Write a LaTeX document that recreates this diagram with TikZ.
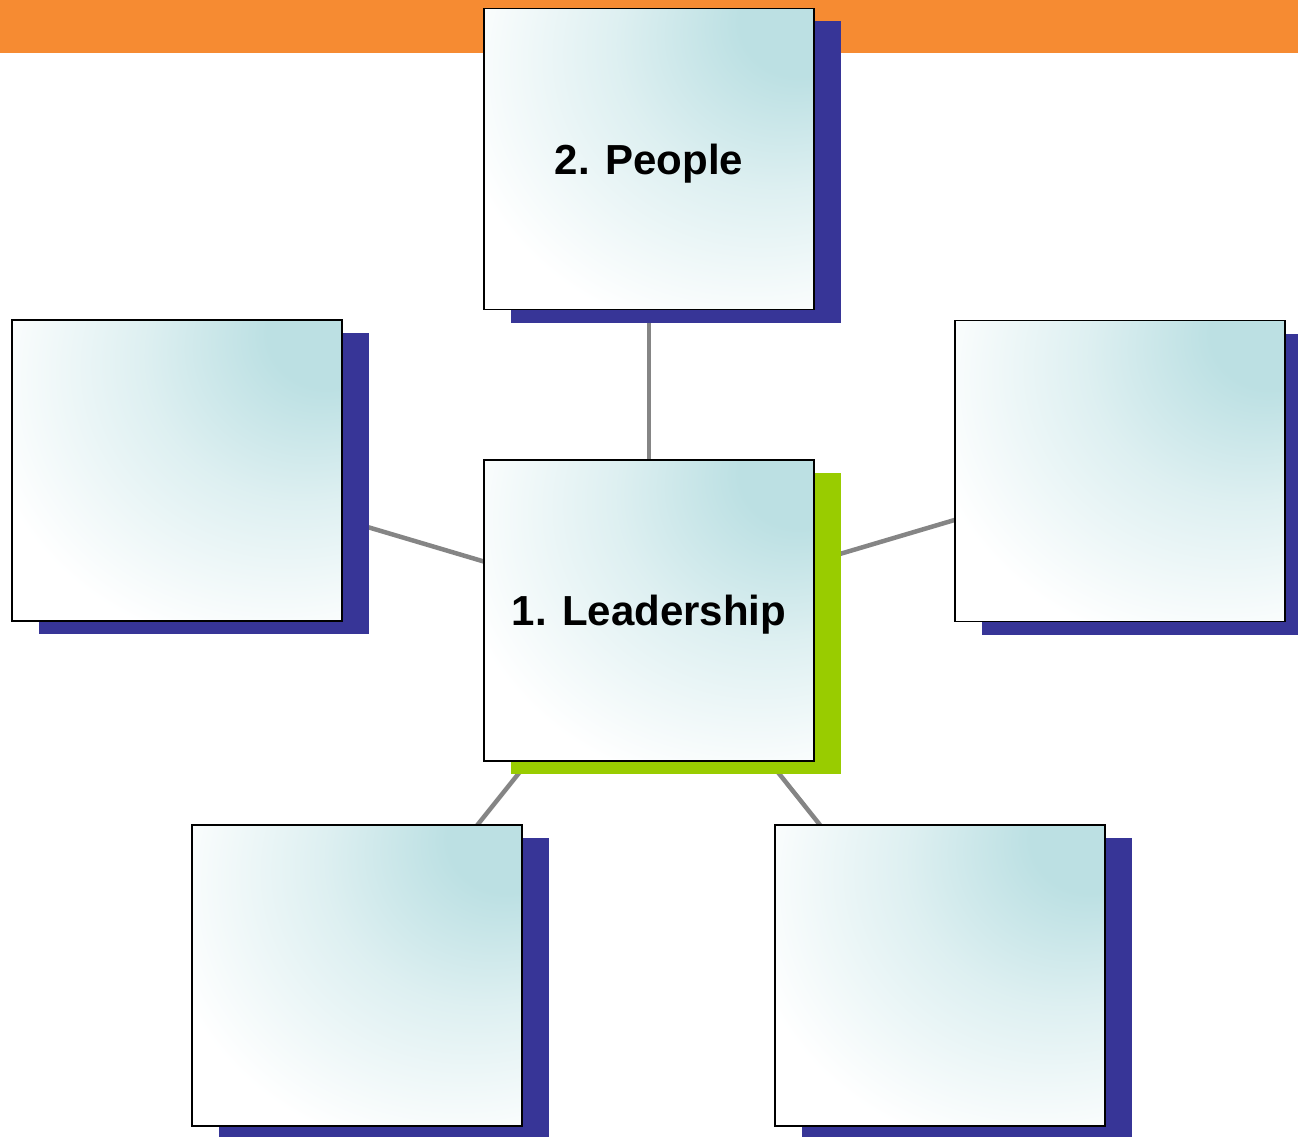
\documentclass[tikz,border=0pt]{standalone}
\usepackage{fontspec}
\setmainfont{Liberation Sans}
\usetikzlibrary{shadows,backgrounds}
\definecolor{orangec}{RGB}{246,139,50}
\definecolor{tealc}{RGB}{188,224,227}
\definecolor{shadowblue}{RGB}{55,53,151}
\definecolor{shadowgreen}{RGB}{153,204,0}
\definecolor{linkgray}{RGB}{133,133,133}
\pgfdeclareradialshading{cornershade}{\pgfpoint{25bp}{25bp}}{%
  color(0bp)=(tealc); color(9bp)=(tealc); color(24bp)=(tealc!50!white);
  color(44bp)=(white); color(100bp)=(white)}
\tikzset{
  cardbox/.style={draw=black, line width=1.6pt, shade, shading=cornershade,
    minimum width=330pt, minimum height=301pt, inner sep=0pt, text depth=0pt,
    font=\fontsize{42}{50}\selectfont\bfseries},
  blueshadow/.style={general shadow={shadow xshift=27pt, shadow yshift=-13pt, fill=shadowblue}},
  greenshadow/.style={general shadow={shadow xshift=27pt, shadow yshift=-13pt, fill=shadowgreen}},
  link/.style={draw=linkgray, line width=4.5pt}
}
\begin{document}
\begin{tikzpicture}[x=1pt,y=-1pt]
\useasboundingbox (0,0) rectangle (1298,1137);
\clip (0,0) rectangle (1298,1137);
\fill[orangec] (0,0) rectangle (1298,53);
\node[cardbox, blueshadow] (ppl) at (649,159) {2. People};
\node[cardbox, greenshadow] (lead) at (649,610.5) {1. Leadership};
\node[cardbox, blueshadow] (lft) at (177,470.5) {};
\node[cardbox, blueshadow] (rgt) at (1120,471) {};
\node[cardbox, blueshadow] (bl) at (357,975.5) {};
\node[cardbox, blueshadow] (br) at (940,975.5) {};
\begin{scope}[on background layer]
\draw[link] (lead.center) -- (ppl.center);
\draw[link] (lead.center) -- (lft.center);
\draw[link] (lead.center) -- (rgt.center);
\draw[link] (lead.center) -- (bl.center);
\draw[link] (lead.center) -- (br.center);
\end{scope}
\end{tikzpicture}
\end{document}
